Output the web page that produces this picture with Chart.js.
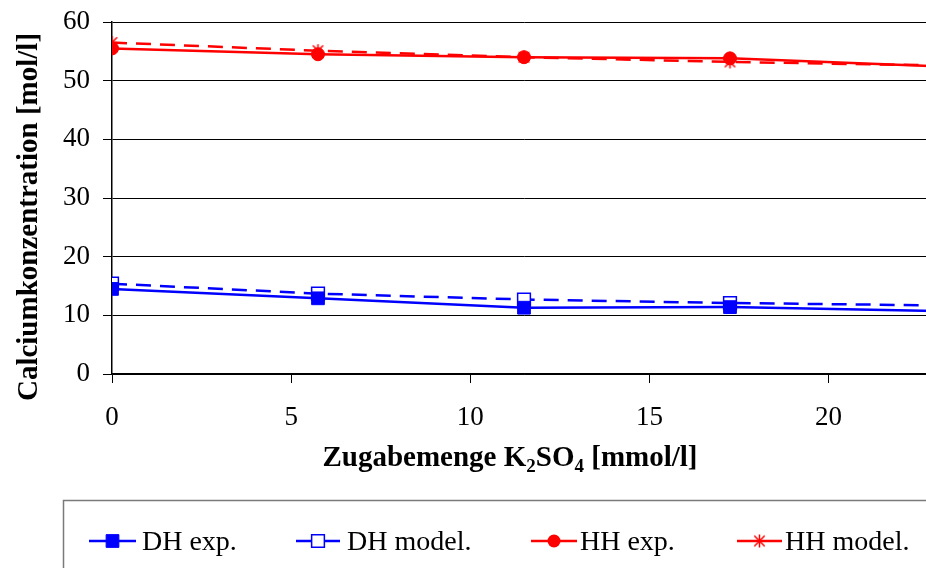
<!DOCTYPE html>
<html>
<head>
<meta charset="utf-8">
<script src="https://cdn.jsdelivr.net/npm/chart.js@4.4.1/dist/chart.umd.min.js"></script>
<style>
  html, body { margin: 0; padding: 0; background: #fff; overflow: hidden; }
  #c { display: block; }
</style>
</head>
<body>
<canvas id="c" width="936" height="590"></canvas>
<script>
// K2SO4 addition [mmol/l]
const zugabe = [0, 5.75, 11.5, 17.25, 23];
// calcium concentration [mol/l]
const dhExp   = [14.5, 12.9, 11.3, 11.4, 10.75];
const dhModel = [15.4, 13.7, 12.7, 12.1, 11.7];
const hhExp   = [55.5, 54.5, 54.0, 53.8, 52.45];
const hhModel = [56.5, 55.1, 54.0, 53.2, 52.6];
const seriesNames = ['DH exp.', 'DH model.', 'HH exp.', 'HH model.'];
const xTicks = [0, 5, 10, 15, 20];
const yTicks = [0, 10, 20, 30, 40, 50, 60];

const SERIF = "'Liberation Serif', 'Times New Roman', serif";
const BLUE = '#0000ff';
const RED = '#ff0000';

// asterisk marker used by the HH model series
function asterisk(color, size) {
  const c = document.createElement('canvas');
  c.width = size; c.height = size;
  const g = c.getContext('2d');
  const m = size / 2, r = size / 2 - 1;
  g.strokeStyle = color; g.lineWidth = 1.5;
  g.beginPath();
  g.moveTo(m, m - r); g.lineTo(m, m + r);
  g.moveTo(m - r * 0.8, m - r * 0.8); g.lineTo(m + r * 0.8, m + r * 0.8);
  g.moveTo(m + r * 0.8, m - r * 0.8); g.lineTo(m - r * 0.8, m + r * 0.8);
  g.stroke();
  return c;
}
const starMark = asterisk(RED, 15);

const pts = ys => zugabe.map((x, i) => ({ x: x, y: ys[i] }));

const datasets = [
  { label: seriesNames[0], data: pts(dhExp), borderColor: BLUE, borderWidth: 2.5,
    pointStyle: 'rect', pointRadius: 9, pointBackgroundColor: BLUE, pointBorderColor: BLUE, pointBorderWidth: 1 },
  { label: seriesNames[1], data: pts(dhModel), borderColor: BLUE, borderWidth: 2.5, borderDash: [15, 9],
    pointStyle: 'rect', pointRadius: 9, pointBackgroundColor: '#ffffff', pointBorderColor: BLUE, pointBorderWidth: 1.5 },
  { label: seriesNames[2], data: pts(hhExp), borderColor: RED, borderWidth: 2.5,
    pointStyle: 'circle', pointRadius: 6.5, pointBackgroundColor: RED, pointBorderColor: RED, pointBorderWidth: 1 },
  { label: seriesNames[3], data: pts(hhModel), borderColor: RED, borderWidth: 2.5, borderDash: [15, 9],
    pointStyle: starMark, pointRadius: 7, pointBackgroundColor: RED, pointBorderColor: RED }
];
datasets.forEach(d => { d.tension = 0; d.fill = false; d.backgroundColor = d.borderColor; });

// legend entry positions (line start, line end, text start)
const legendSlots = [[89, 136, 142], [296, 340, 347], [531, 577, 580], [737, 782, 785]];

function drawMarker(ctx, ds, x, y) {
  ctx.save();
  ctx.setLineDash([]);
  if (ds.pointStyle === 'rect') {
    const s = ds.pointRadius * Math.SQRT1_2;
    ctx.fillStyle = ds.pointBackgroundColor;
    ctx.strokeStyle = ds.pointBorderColor;
    ctx.lineWidth = ds.pointBorderWidth;
    ctx.beginPath(); ctx.rect(x - s, y - s, 2 * s, 2 * s); ctx.fill(); ctx.stroke();
  } else if (ds.pointStyle === 'circle') {
    ctx.fillStyle = ds.pointBackgroundColor;
    ctx.beginPath(); ctx.arc(x, y, ds.pointRadius, 0, Math.PI * 2); ctx.fill();
  } else {
    const im = ds.pointStyle;
    ctx.drawImage(im, x - im.width / 2, y - im.height / 2);
  }
  ctx.restore();
}

const decorations = {
  id: 'decorations',
  afterDraw(chart) {
    const ctx = chart.ctx;
    ctx.save();
    // y axis title
    ctx.fillStyle = '#000';
    ctx.font = 'bold 29px ' + SERIF;
    ctx.translate(37, 217);
    ctx.rotate(-Math.PI / 2);
    ctx.textAlign = 'center';
    ctx.textBaseline = 'alphabetic';
    ctx.fillText('Calciumkonzentration [mol/l]', 0, 0);
    ctx.restore();

    // x axis title with subscripts
    ctx.save();
    ctx.fillStyle = '#000';
    ctx.textBaseline = 'alphabetic';
    const big = 'bold 29px ' + SERIF, small = 'bold 19px ' + SERIF;
    const parts = [['Zugabemenge K', big, 0], ['2', small, 6], ['SO', big, 0], ['4', small, 6], [' [mmol/l]', big, 0]];
    let total = 0;
    parts.forEach(p => { ctx.font = p[1]; p.push(ctx.measureText(p[0]).width); total += p[3]; });
    let x = 510 - total / 2;
    parts.forEach(p => { ctx.font = p[1]; ctx.fillText(p[0], x, 466 + p[2]); x += p[3]; });
    ctx.restore();

    // legend box
    ctx.save();
    ctx.strokeStyle = '#7a7a7a';
    ctx.lineWidth = 1.5;
    ctx.strokeRect(63.5, 500.5, 900, 120);
    const ly = 541;
    chart.data.datasets.forEach((ds, i) => {
      const [a, b, t] = legendSlots[i];
      ctx.save();
      ctx.strokeStyle = ds.borderColor;
      ctx.lineWidth = ds.borderWidth;
      ctx.beginPath(); ctx.moveTo(a, ly); ctx.lineTo(b, ly); ctx.stroke();
      ctx.restore();
      drawMarker(ctx, ds, (a + b) / 2, ly);
      ctx.fillStyle = '#000';
      ctx.font = '28px ' + SERIF;
      ctx.textBaseline = 'middle';
      ctx.textAlign = 'left';
      ctx.fillText(ds.label, t, ly + 2);
    });
    ctx.restore();
  }
};

new Chart(document.getElementById('c'), {
  type: 'line',
  data: { datasets: datasets },
  plugins: [decorations],
  options: {
    responsive: false,
    maintainAspectRatio: false,
    devicePixelRatio: 1,
    animation: false,
    events: [],
    layout: { autoPadding: false, padding: { top: 22, left: 0, right: 0, bottom: 0 } },
    plugins: { legend: { display: false }, tooltip: { enabled: false } },
    scales: {
      x: {
        type: 'linear',
        min: 0, max: 23,
        afterBuildTicks: s => { s.ticks = xTicks.map(v => ({ value: v })); },
        afterFit: s => { s.height = 216; },
        grid: { drawOnChartArea: false, drawTicks: true, tickLength: 9, color: '#000', lineWidth: 1 },
        border: { display: true, color: '#000', width: 1.5 },
        ticks: { color: '#000', font: { family: SERIF, size: 27 }, padding: 19, maxRotation: 0 }
      },
      y: {
        min: 0, max: 60,
        afterBuildTicks: s => { s.ticks = yTicks.map(v => ({ value: v })); },
        afterFit: s => { s.width = 112; },
        grid: { drawOnChartArea: true, drawTicks: true, tickLength: 9, color: '#000', lineWidth: 1 },
        border: { display: true, color: '#000', width: 1.5 },
        ticks: { color: '#000', font: { family: SERIF, size: 27, lineHeight: 0.5 }, padding: 13 }
      }
    }
  }
});
</script>
</body>
</html>
